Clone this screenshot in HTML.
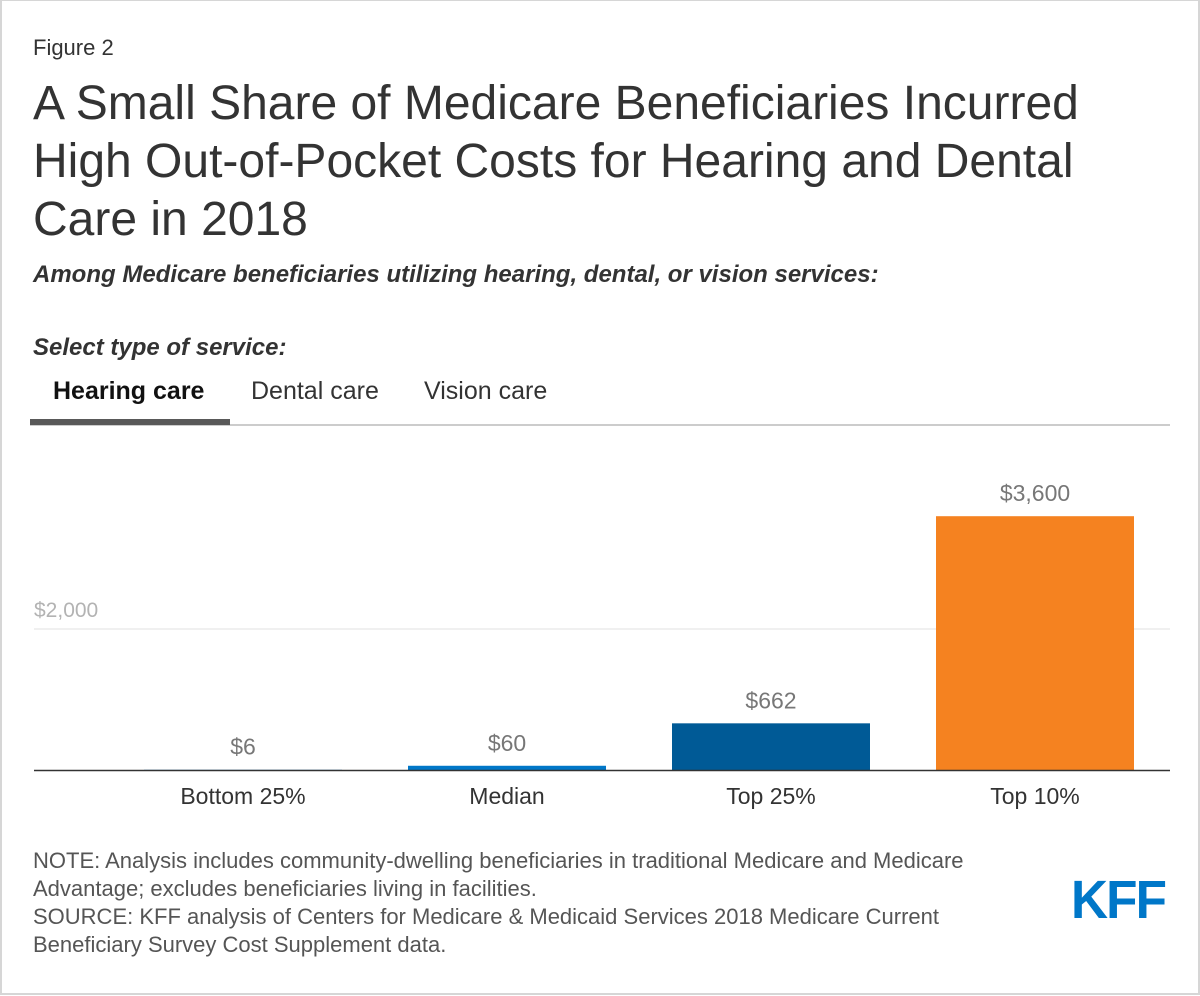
<!DOCTYPE html>
<html><head><meta charset="utf-8"><style>
body{margin:0;background:#fff;font-family:"Liberation Sans",Arial,sans-serif;}
#wrap{position:relative;width:1196px;height:992px;border:2px solid #d6d6d6;border-top-width:1px;border-bottom-width:2px;overflow:hidden;}
.abs{position:absolute;white-space:nowrap;}
</style></head><body>
<div id="wrap">
<div class="abs" style="left:31px;top:34px;font-size:22px;color:#333">Figure 2</div>
<div class="abs" style="left:31px;top:74px;font-size:48px;line-height:58px;color:#333;white-space:normal;width:1110px">A Small Share of Medicare Beneficiaries Incurred High Out-of-Pocket Costs for Hearing and Dental Care in 2018</div>
<div class="abs" style="left:31px;top:260px;font-size:24px;font-weight:bold;font-style:italic;color:#333">Among Medicare beneficiaries utilizing hearing, dental, or vision services:</div>
<div class="abs" style="left:31px;top:333px;font-size:24px;font-weight:bold;font-style:italic;color:#333">Select type of service:</div>
<div class="abs" style="left:51px;top:376px;font-size:25px;font-weight:bold;color:#111">Hearing care</div>
<div class="abs" style="left:249px;top:376px;font-size:25px;color:#333">Dental care</div>
<div class="abs" style="left:422px;top:376px;font-size:25px;color:#333">Vision care</div>
<div class="abs" style="left:28px;top:423px;width:1140px;height:2px;background:#ccc"></div>
<div class="abs" style="left:28px;top:418px;width:200px;height:6px;background:#595959"></div>
<svg class="abs" style="left:0;top:0" width="1196" height="992" id="chart"></svg>
<div class="abs" style="left:31px;top:846px;font-size:22px;line-height:28px;color:#555;white-space:normal;width:970px">NOTE: Analysis includes community-dwelling beneficiaries in traditional Medicare and Medicare Advantage; excludes beneficiaries living in facilities.<br>SOURCE: KFF analysis of Centers for Medicare &amp; Medicaid Services 2018 Medicare Current Beneficiary Survey Cost Supplement data.</div>
<div class="abs" style="left:1069px;top:868px;font-size:54px;font-weight:bold;color:#0077c8;letter-spacing:-2px;transform:scaleX(0.95);transform-origin:left">KFF</div>
</div>
<script>
const categories=["Bottom 25%","Median","Top 25%","Top 10%"];
const values=[6,60,662,3600];
const valueLabels=["$6","$60","$662","$3,600"];
const barColors=["#9ecae9","#0077c8","#005a96","#f58220"];
const gridTicks=[2000];
const gridLabels=["$2,000"];
const NS="http://www.w3.org/2000/svg";
const svg=document.getElementById('chart');
const base=769, plotLeft=109, plotRight=1165, scale=141/2000;
const y=v=>base-v*scale;
const band=(plotRight-plotLeft)/categories.length;
const bx=i=>plotLeft+band*i+band/2;
function mk(t,a){const e=document.createElementNS(NS,t);for(const k in a)e.setAttribute(k,a[k]);svg.appendChild(e);return e;}
gridTicks.forEach((t,i)=>{
 const l=mk('line',{x1:32,x2:1168,y1:y(t),y2:y(t),stroke:'#e0e0e0','stroke-width':1});
 
 
 const tx=mk('text',{x:32,y:y(t)-12,'font-size':21,fill:'#b3b3b3','font-family':'Liberation Sans, sans-serif'});
 tx.textContent=gridLabels[i];
 
 
});
categories.forEach((c,i)=>{
 const w=198,h=Math.max(values[i]*scale,0.5);
 const r=mk('rect',{x:bx(i)-w/2,y:base-h,width:w,height:h,fill:barColors[i]});
 
 
 const v=mk('text',{x:bx(i),y:y(values[i])-15,'text-anchor':'middle','font-size':23,fill:'#777','font-family':'Liberation Sans, sans-serif'});
 v.textContent=valueLabels[i];
 
 
 const t=mk('text',{x:bx(i),y:base+34,'text-anchor':'middle','font-size':23,fill:'#333','font-family':'Liberation Sans, sans-serif'});
 t.textContent=c;
 
 
});
const ax=mk('line',{x1:32,x2:1168,y1:base+0.5,y2:base+0.5,stroke:'#333','stroke-width':1.5});


</script>
</body></html>
